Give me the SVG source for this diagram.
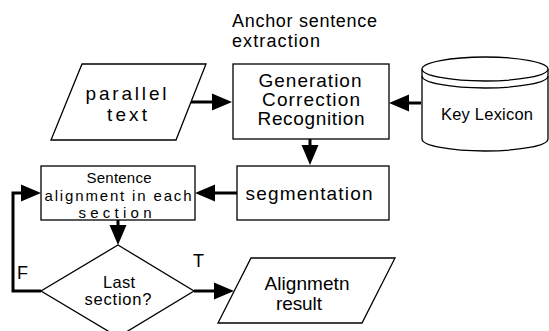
<svg xmlns="http://www.w3.org/2000/svg" width="549" height="331" viewBox="0 0 549 331">
  <style>
    .shape { fill: #fff; stroke: #000; stroke-width: 1.3; }
    .line { fill: none; stroke: #000; stroke-width: 3; marker-end: url(#head); }
    text { font-family: "Liberation Sans", Arial, sans-serif; fill: #000; text-anchor: middle; }
    .big { font-size: 19px; }
    .label { font-size: 18px; }
    .mid { font-size: 16.5px; }
    .small { font-size: 15px; }
    .plain { text-anchor: start; }
  </style>
  <defs>
    <marker id="head" markerUnits="userSpaceOnUse" markerWidth="22" markerHeight="20" refX="0" refY="8.5" orient="auto" overflow="visible">
      <path d="M0,0 L20,8.5 L0,17 Z" fill="#000"/>
    </marker>
  </defs>
  <rect width="549" height="331" fill="#fff"/>

  <g id="anchor-label">
    <text class="label plain" x="232" y="27" textLength="145" lengthAdjust="spacing">Anchor sentence</text>
    <text class="label plain" x="232" y="47" textLength="88" lengthAdjust="spacing">extraction</text>
  </g>

  <g id="parallel-text">
    <polygon class="shape" points="82,64 206,64 176,140 51,140"/>
    <text class="big" x="126" y="100" textLength="81" lengthAdjust="spacing">parallel</text>
    <text class="big" x="127" y="121" textLength="40" lengthAdjust="spacing">text</text>
  </g>

  <g id="anchor-box">
    <rect class="shape" x="233" y="64" width="156" height="75"/>
    <text class="big" x="310" y="87" textLength="103" lengthAdjust="spacing">Generation</text>
    <text class="big" x="311" y="106" textLength="98" lengthAdjust="spacing">Correction</text>
    <text class="big" x="311" y="125" textLength="107" lengthAdjust="spacing">Recognition</text>
  </g>

  <g id="key-lexicon">
    <path class="shape" d="M422,69 V139 A63,12 0 0 0 548,139 V69 A63,12 0 0 0 422,69 Z"/>
    <path class="shape" d="M422,69 A63,12 0 0 0 548,69" fill="none"/>
    <path d="M422,76 A63,12 0 0 0 548,76" fill="none" stroke="#000" stroke-width="1.3"/>
    <text class="mid" x="487" y="120" textLength="92" lengthAdjust="spacing">Key Lexicon</text>
  </g>

  <g id="segmentation">
    <rect class="shape" x="237" y="166" width="152" height="54"/>
    <text class="big" x="309" y="200" textLength="127" lengthAdjust="spacing">segmentation</text>
  </g>

  <g id="sentence-alignment">
    <rect class="shape" x="41" y="166" width="154" height="54"/>
    <text class="small" x="119" y="183" textLength="65" lengthAdjust="spacing">Sentence</text>
    <text class="small" x="118" y="201" textLength="147" lengthAdjust="spacing">alignment in each</text>
    <text class="small" x="115" y="218" textLength="73" lengthAdjust="spacing">section</text>
  </g>

  <g id="last-section">
    <polygon class="shape" points="118,245 194,291 118,337 41,291"/>
    <text class="mid" x="119" y="288" textLength="32" lengthAdjust="spacing">Last</text>
    <text class="mid" x="118" y="305" textLength="67" lengthAdjust="spacing">section?</text>
  </g>

  <g id="alignment-result">
    <polygon class="shape" points="251,258 395,258 362,323 218,323"/>
    <text class="big" x="307" y="290" textLength="85" lengthAdjust="spacing">Alignmetn</text>
    <text class="big" x="299" y="310" textLength="46" lengthAdjust="spacing">result</text>
  </g>

  <g id="connectors">
    <path class="line" d="M191,102 H212"/>
    <path class="line" d="M421,103 H409"/>
    <path class="line" d="M310,139 V145"/>
    <path class="line" d="M237,193 H215"/>
    <path class="line" d="M118,220 V225"/>
    <path class="line" d="M194,291 H214"/>
    <path class="line" d="M41,291 H13 V193 H21"/>
    <text class="label plain" x="193" y="267">T</text>
    <text class="label plain" x="17" y="279">F</text>
  </g>
</svg>
